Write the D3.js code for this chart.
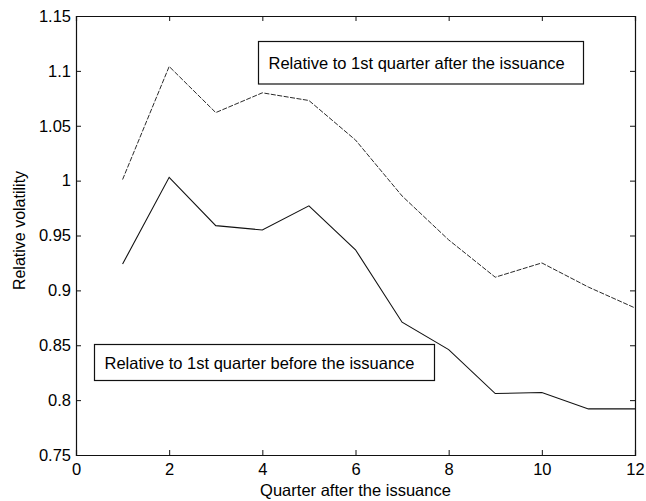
<!DOCTYPE html>
<html>
<head>
<meta charset="utf-8">
<script src="https://cdn.jsdelivr.net/npm/d3@7"></script>
<style>
  html, body { margin: 0; padding: 0; background: #fff; }
  svg { display: block; }
  text { font-family: "Liberation Sans", Arial, sans-serif; fill: #000; }
</style>
</head>
<body>
<script>
// Quarters after the issuance
const quarters = [1, 2, 3, 4, 5, 6, 7, 8, 9, 10, 11, 12];
// Volatility relative to the 1st quarter after the issuance (dashed)
const relAfter = [1.001, 1.104, 1.062, 1.080, 1.073, 1.037, 0.986, 0.946, 0.912, 0.925, 0.903, 0.884];
// Volatility relative to the 1st quarter before the issuance (solid)
const relBefore = [0.924, 1.003, 0.959, 0.955, 0.977, 0.937, 0.871, 0.846, 0.806, 0.807, 0.792, 0.792];

const xTicks = [0, 2, 4, 6, 8, 10, 12];
const yTicks = [0.75, 0.8, 0.85, 0.9, 0.95, 1, 1.05, 1.1, 1.15];
const legendAfter = "Relative to 1st quarter after the issuance";
const legendBefore = "Relative to 1st quarter before the issuance";

const W = 646, H = 501;
const m = { left: 76, top: 16, right: 11, bottom: 46 };
const iw = W - m.left - m.right, ih = H - m.top - m.bottom;

const svg = d3.select("body").append("svg").attr("width", W).attr("height", H);
const g = svg.append("g").attr("transform", `translate(${m.left},${m.top})`);

const x = d3.scaleLinear().domain([0, 12]).range([0, iw]);
const y = d3.scaleLinear().domain([0.75, 1.15]).range([ih, 0]);

const fmtY = d => String(+d.toFixed(2));

// Axes with inward ticks on all four sides
const axB = d3.axisBottom(x).tickValues(xTicks).tickSize(-5).tickPadding(8).tickFormat(d3.format("d"));
const axT = d3.axisTop(x).tickValues(xTicks).tickSize(-5).tickFormat("");
const axL = d3.axisLeft(y).tickValues(yTicks).tickSize(-5).tickPadding(5).tickFormat(fmtY);
const axR = d3.axisRight(y).tickValues(yTicks).tickSize(-5).tickFormat("");

function styleAxis(sel) {
  sel.select(".domain").attr("stroke", "#111").attr("stroke-width", 1.2);
  sel.selectAll(".tick line").attr("stroke", "#111");
  sel.selectAll(".tick text").attr("font-size", 16.5).attr("fill", "#000")
     .style("font-family", '"Liberation Sans", Arial, sans-serif');
}

g.append("g").attr("transform", `translate(0,${ih})`).call(axB).call(styleAxis);
g.append("g").call(axT).call(styleAxis);
g.append("g").call(axL).call(styleAxis);
g.append("g").attr("transform", `translate(${iw},0)`).call(axR).call(styleAxis);

// Series lines
const line = d3.line().x((d, i) => x(quarters[i])).y(d => y(d));

g.append("path").datum(relAfter)
  .attr("fill", "none").attr("stroke", "#2a2a2a").attr("stroke-width", 1)
  .attr("stroke-dasharray", "5,1.5").attr("d", line);

g.append("path").datum(relBefore)
  .attr("fill", "none").attr("stroke", "#111").attr("stroke-width", 1.1)
  .attr("d", line);

// Legend boxes
function legendBox(x0, y0, w, h, label) {
  const lg = svg.append("g").attr("transform", `translate(${x0},${y0})`);
  lg.append("rect").attr("width", w).attr("height", h)
    .attr("fill", "#fff").attr("stroke", "#111").attr("stroke-width", 1.2);
  lg.append("text").attr("x", 10).attr("y", h / 2 + 6)
    .attr("font-size", 16.5).text(label);
}
legendBox(258.5, 41.5, 325, 42.5, legendAfter);
legendBox(94.5, 344.5, 340, 36, legendBefore);

// Axis titles
svg.append("text").attr("x", m.left + iw / 2).attr("y", H - 5)
  .attr("text-anchor", "middle").attr("font-size", 16.5).text("Quarter after the issuance");
svg.append("text").attr("transform", `translate(25,${m.top + ih / 2 - 5}) rotate(-90)`)
  .attr("text-anchor", "middle").attr("font-size", 16).text("Relative volatility");
</script>
</body>
</html>
